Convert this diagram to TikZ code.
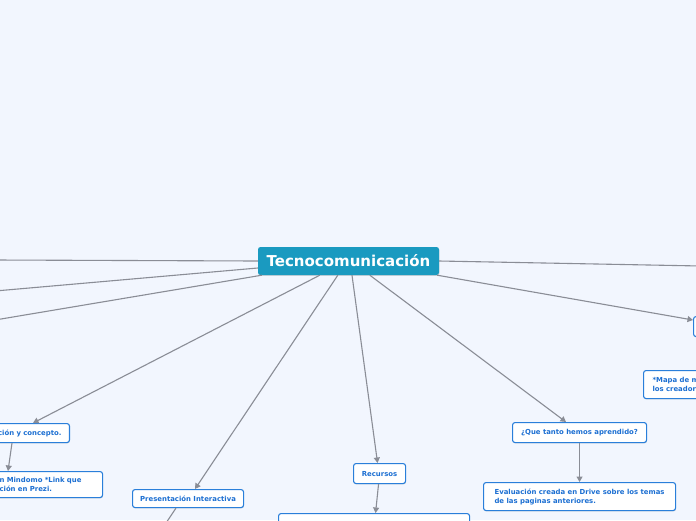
\documentclass[tikz,border=0pt]{standalone}
\usepackage{fontspec}
\setmainfont{DejaVu Sans}[BoldFont=DejaVu Sans Bold]
\usetikzlibrary{arrows.meta,shadows}
\definecolor{bg}{HTML}{F2F6FE}
\definecolor{mainc}{HTML}{1A9AC0}
\definecolor{boxborder}{HTML}{2A7FDA}
\definecolor{boxtext}{HTML}{1C6FD2}
\definecolor{linec}{HTML}{8A8D96}
\tikzset{
  box/.style={draw=boxborder, line width=1.1pt, fill=white, rounded corners=2.5pt,
    text=boxtext, font=\fontsize{6.9}{9}\selectfont\bfseries,
    drop shadow={shadow xshift=0.4pt, shadow yshift=-0.9pt, fill=black!30, opacity=0.5},
    inner ysep=0pt},
  conn/.style={draw=linec, line width=1.1pt},
  arr/.style={conn, -{Triangle[length=5.5pt,width=6pt]}},
}
\begin{document}
\begin{tikzpicture}[x=1pt,y=-1pt]
\useasboundingbox (0,0) rectangle (696,520);
\clip (0,0) rectangle (696,520);
\fill[bg] (0,0) rectangle (696,520);

% central node
\node[fill=mainc, rounded corners=2.5pt, text=white, minimum width=181pt, minimum height=28pt,
  inner sep=0pt, font=\fontsize{15}{17}\selectfont\bfseries,
  drop shadow={shadow xshift=0.4pt, shadow yshift=-0.9pt, fill=black!30, opacity=0.5}]
  (c) at (348.5,261) {Tecnocomunicación};

% child nodes
\node[box, anchor=north east, minimum width=78pt, minimum height=19pt, inner xsep=8pt,
  text width=100pt, align=right]
  (def) at (70,423) {ción y concepto.};
\node[box, anchor=north west, minimum width=110pt, minimum height=26pt, inner xsep=7pt,
  text width=96pt, align=left]
  (n3) at (-8,471) {n Mindomo *Link que\\ción en Prezi.};
\node[box, anchor=north west, minimum width=111pt, minimum height=18pt]
  (pres) at (132,489) {Presentación Interactiva};
\node[box, anchor=north west, minimum width=52pt, minimum height=20pt]
  (rec) at (353,463) {Recursos};
\node[box, anchor=north west, minimum width=191pt, minimum height=28pt]
  (rb) at (278,513) {};
\node[box, anchor=north west, minimum width=134pt, minimum height=20pt]
  (que) at (512,422) {¿Que tanto hemos aprendido?};
\node[box, anchor=north west, minimum width=192pt, minimum height=28pt, align=left]
  (ev) at (483,482) {Evaluación creada en Drive sobre los temas\\de las paginas anteriores.};
\node[box, anchor=north west, minimum width=40pt, minimum height=20pt]
  (rt) at (693,316) {};
\node[box, anchor=north west, minimum width=80pt, minimum height=28pt, inner xsep=9pt,
  text width=62pt, align=left]
  (map) at (643,370) {*Mapa de m\\los creador};

% free ends
\coordinate (L1) at (-5,260);
\coordinate (L2) at (-5,291);
\coordinate (L3) at (-5,320);
\coordinate (R1) at (701,266);
\coordinate (P2) at (164,526);

% connectors
\draw[conn] (c.west) -- (L1);
\draw[conn] ([yshift=-7pt]c.west) -- (L2);
\draw[conn] ([xshift=4pt]c.south west) -- (L3);
\draw[conn] (c.east) -- (R1);
\draw[arr] ([xshift=62pt]c.south west) -- ([xshift=-37pt]def.north east);
\draw[arr] ([xshift=-58pt]def.south east) -- ([xshift=16pt]n3.north west);
\draw[arr] ([xshift=80pt]c.south west) -- ([xshift=63pt]pres.north west);
\draw[conn] ([xshift=44pt]pres.south west) -- (P2);
\draw[arr] ([xshift=3.5pt]c.south) -- ([xshift=-2pt]rec.north);
\draw[arr] ([xshift=-1pt]rec.south) -- ([xshift=1.5pt]rb.north);
\draw[arr] ([xshift=112pt]c.south west) -- ([xshift=54pt]que.north west);
\draw[arr] (que.south) -- (ev.north);
\draw[arr] ([xshift=-2pt]c.south east) -- ([yshift=-4pt]rt.north west);
\end{tikzpicture}
\end{document}
